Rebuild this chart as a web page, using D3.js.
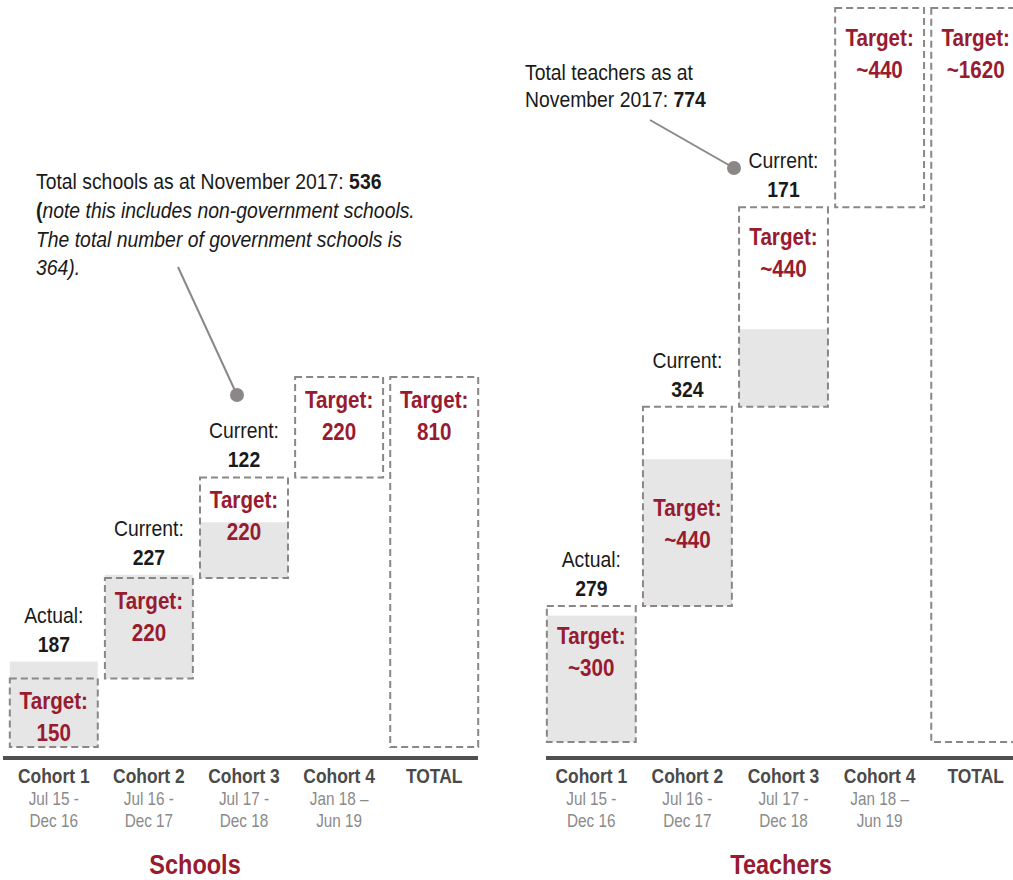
<!DOCTYPE html>
<html>
<head>
<meta charset="utf-8">
<script src="https://cdnjs.cloudflare.com/ajax/libs/d3/7.8.5/d3.min.js"></script>
<style>
  body { margin: 0; background: #fff; }
  svg { display: block; }
</style>
</head>
<body>
<div id="chart"></div>
<script>
const W = 1013, H = 880;

// categories and tick labels
const categories = ["Cohort 1", "Cohort 2", "Cohort 3", "Cohort 4", "TOTAL"];
const periods = [["Jul 15 -", "Dec 16"], ["Jul 16 -", "Dec 17"], ["Jul 17 -", "Dec 18"], ["Jan 18 \u2013", "Jun 19"], []];

// schools
const schoolTargets = [150, 220, 220, 220, 810];
const schoolTargetLabels = ["150", "220", "220", "220", "810"];
const schoolProgress = [187, 227, 122];
const schoolProgressLabels = ["Actual:", "Current:", "Current:"];

// teachers
const teacherTargets = [300, 440, 440, 440, 1620];
const teacherTargetLabels = ["~300", "~440", "~440", "~440", "~1620"];
const teacherProgress = [279, 324, 171];
const teacherProgressLabels = ["Actual:", "Current:", "Current:"];

const red = "#981b30",
      boxStroke = "#8c8686",
      fillGray = "#e6e6e6",
      font = "'Liberation Sans', Arial, sans-serif",
      sq = 0.86; // horizontal squeeze, the original uses a narrow face

const svg = d3.select("#chart").append("svg")
    .attr("width", W)
    .attr("height", H)
    .style("font-family", font);

function squeeze(dy, s) {
    return `translate(0,${dy}) scale(${s || sq},1)`;
}

function drawPanel(o) {
    const x = d3.scaleBand(categories, o.xRange).paddingInner(0.075).paddingOuter(0.04);
    const y = d3.scaleLinear([0, d3.sum(o.targets.slice(0, 4))], o.yRange);

    // waterfall starts: each cohort starts where the previous target ends, total from 0
    const starts = o.targets.map(function(d, i) {
        return i === 4 ? 0 : d3.sum(o.targets.slice(0, i));
    });

    const g = svg.append("g");

    // grey fills for actual / current
    g.append("g").selectAll("rect")
        .data(o.progress)
        .join("rect")
        .attr("x", function(d, i) { return x(categories[i]); })
        .attr("width", x.bandwidth())
        .attr("y", function(d, i) { return y(starts[i] + d); })
        .attr("height", function(d, i) { return y(starts[i]) - y(starts[i] + d); })
        .attr("fill", fillGray);

    // dashed target boxes
    g.append("g").selectAll("rect")
        .data(o.targets)
        .join("rect")
        .attr("x", function(d, i) { return x(categories[i]); })
        .attr("width", x.bandwidth())
        .attr("y", function(d, i) { return y(starts[i] + d); })
        .attr("height", function(d, i) { return y(starts[i]) - y(starts[i] + d); })
        .attr("fill", "none")
        .attr("stroke", boxStroke)
        .attr("stroke-width", 2)
        .attr("stroke-dasharray", "7,4");

    // target labels
    const tl = g.append("g").selectAll("g")
        .data(o.targets)
        .join("g")
        .attr("transform", function(d, i) {
            const top = y(starts[i] + d), bot = y(starts[i]);
            const ty = o.midLabel.indexOf(i) >= 0 ? (top + bot) / 2 + 10 : top + o.labelOffset;
            return `translate(${x(categories[i]) + x.bandwidth() / 2},${ty})`;
        })
        .attr("text-anchor", "middle")
        .attr("fill", red)
        .attr("font-weight", "bold")
        .attr("font-size", 24);
    tl.append("text").attr("transform", squeeze(0)).text("Target:");
    tl.append("text").attr("transform", squeeze(32)).text(function(d, i) { return o.targetLabels[i]; });

    // actual / current labels
    const pl = g.append("g").selectAll("g")
        .data(o.progress)
        .join("g")
        .attr("transform", function(d, i) {
            const top = Math.min(y(starts[i] + d), y(starts[i] + o.targets[i]));
            return `translate(${x(categories[i]) + x.bandwidth() / 2},${top - 10})`;
        })
        .attr("text-anchor", "middle")
        .attr("fill", "#1a1a1a");
    pl.append("text").attr("transform", squeeze(-29, 0.88)).attr("font-size", 22)
        .text(function(d, i) { return o.progressLabels[i]; });
    pl.append("text").attr("transform", squeeze(0, 0.88)).attr("font-size", 22).attr("font-weight", "bold")
        .text(function(d) { return d; });

    // baseline
    g.append("line")
        .attr("x1", o.axisRange[0]).attr("x2", o.axisRange[1])
        .attr("y1", 758).attr("y2", 758)
        .attr("stroke", "#505050")
        .attr("stroke-width", 4);

    // category labels
    const cl = g.append("g").selectAll("g")
        .data(categories)
        .join("g")
        .attr("transform", function(d) {
            return `translate(${x(d) + x.bandwidth() / 2},783)`;
        })
        .attr("text-anchor", "middle");
    cl.append("text")
        .attr("transform", squeeze(0, 0.83))
        .attr("font-size", 21).attr("font-weight", "bold").attr("fill", "#4a4a4a")
        .text(function(d) { return d; });
    cl.selectAll("text.period")
        .data(function(d, i) { return periods[i]; })
        .join("text")
        .attr("class", "period")
        .attr("transform", function(d, j) { return squeeze(22 + j * 22, 0.85); })
        .attr("font-size", 18).attr("fill", "#8a8a8a")
        .text(function(d) { return d; });

    // panel title
    g.append("text")
        .attr("transform", `translate(${o.titleX},874) scale(0.84,1)`)
        .attr("text-anchor", "middle")
        .attr("font-size", 28).attr("font-weight", "bold").attr("fill", red)
        .text(o.title);
}

drawPanel({
    xRange: [6, 482], yRange: [747, 377], axisRange: [3, 478],
    targets: schoolTargets, targetLabels: schoolTargetLabels,
    progress: schoolProgress, progressLabels: schoolProgressLabels,
    midLabel: [], labelOffset: 31, title: "Schools", titleX: 195
});

drawPanel({
    xRange: [543, 1024], yRange: [742, 8], axisRange: [546, 1013],
    targets: teacherTargets, targetLabels: teacherTargetLabels,
    progress: teacherProgress, progressLabels: teacherProgressLabels,
    midLabel: [1], labelOffset: 38, title: "Teachers", titleX: 781
});

// annotations
const noteColor = "#8c8787";

const schoolNote = svg.append("text")
    .attr("transform", "translate(36,0) scale(0.88,1)")
    .attr("font-size", 22).attr("fill", "#1a1a1a");
schoolNote.append("tspan").attr("x", 0).attr("y", 189).text("Total schools as at November 2017: ");
schoolNote.append("tspan").attr("font-weight", "bold").text("536");
schoolNote.append("tspan").attr("x", 0).attr("y", 218).attr("font-weight", "bold").text("(");
schoolNote.append("tspan").attr("font-style", "italic").text("note this includes non-government schools.");
schoolNote.append("tspan").attr("x", 0).attr("y", 247).attr("font-style", "italic").text("The total number of government schools is");
schoolNote.append("tspan").attr("x", 0).attr("y", 275).attr("font-style", "italic").text("364).");

svg.append("line")
    .attr("x1", 178).attr("y1", 267).attr("x2", 237).attr("y2", 395)
    .attr("stroke", noteColor).attr("stroke-width", 2);
svg.append("circle")
    .attr("cx", 237).attr("cy", 395).attr("r", 7).attr("fill", noteColor);

const teacherNote = svg.append("text")
    .attr("transform", "translate(525,0) scale(0.88,1)")
    .attr("font-size", 22).attr("fill", "#1a1a1a");
teacherNote.append("tspan").attr("x", 0).attr("y", 80).text("Total teachers as at");
teacherNote.append("tspan").attr("x", 0).attr("y", 107).text("November 2017: ");
teacherNote.append("tspan").attr("font-weight", "bold").text("774");

svg.append("line")
    .attr("x1", 650).attr("y1", 120).attr("x2", 734).attr("y2", 168)
    .attr("stroke", noteColor).attr("stroke-width", 2);
svg.append("circle")
    .attr("cx", 734).attr("cy", 168).attr("r", 7).attr("fill", noteColor);
</script>
</body>
</html>
